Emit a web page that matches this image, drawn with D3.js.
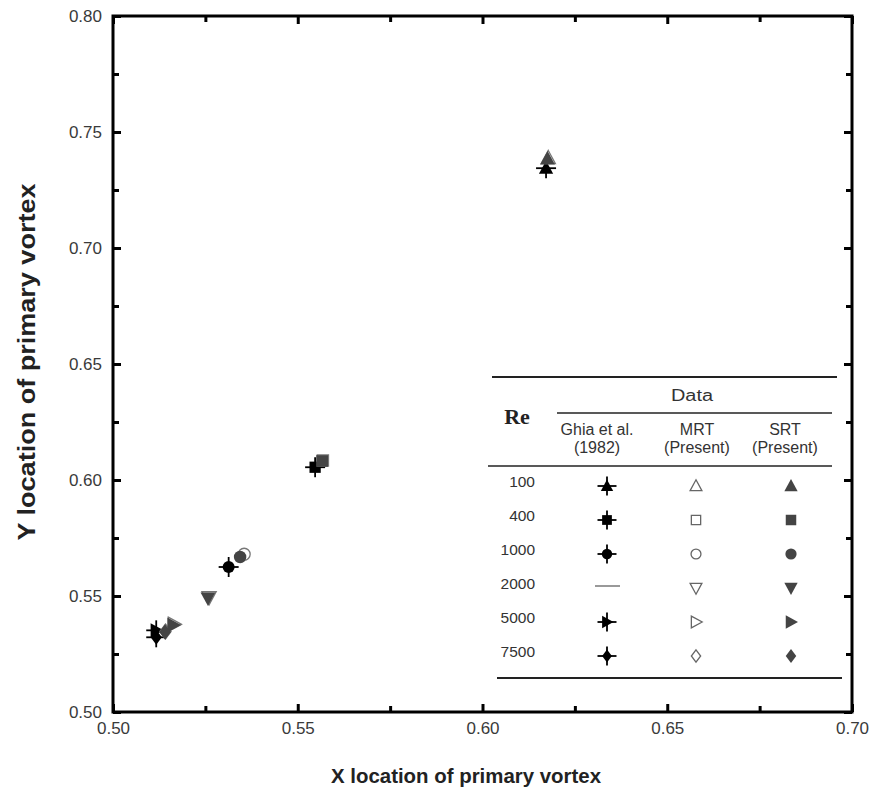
<!DOCTYPE html>
<html>
<head>
<meta charset="utf-8">
<script src="https://cdn.jsdelivr.net/npm/d3@7"></script>
<style>
  body { margin: 0; background: #fff; }
  svg text { font-family: "Liberation Sans", Arial, sans-serif; }
</style>
</head>
<body>
<svg id="chart"></svg>
<script>
// Primary vortex locations per Reynolds number
const reynolds = ["100", "400", "1000", "2000", "5000", "7500"];
const shapes = ["triangle", "square", "circle", "triangleDown", "triangleRight", "diamond"];

// Ghia et al. (1982) - no value for Re 2000
const ghiaX = [0.6172, 0.5547, 0.5313, null, 0.5117, 0.5117];
const ghiaY = [0.7344, 0.6055, 0.5625, null, 0.5352, 0.5322];

// MRT (present)
const mrtX = [0.6178, 0.5568, 0.5355, 0.5260, 0.5165, 0.5142];
const mrtY = [0.7388, 0.6084, 0.5680, 0.5494, 0.5378, 0.5347];

// SRT (present)
const srtX = [0.6176, 0.5566, 0.5344, 0.5257, 0.5163, 0.5141];
const srtY = [0.7385, 0.6082, 0.5668, 0.5490, 0.5375, 0.5345];

const xDomain = [0.50, 0.70];
const yDomain = [0.50, 0.80];
const xTickValues = [0.50, 0.55, 0.60, 0.65, 0.70];
const yTickValues = [0.50, 0.55, 0.60, 0.65, 0.70, 0.75, 0.80];

const config = {
    width: 869,
    height: 801,
    left: 113, right: 852, top: 16, bottom: 712
};

const svg = d3.select("#chart")
    .attr("width", config.width)
    .attr("height", config.height);

const x = d3.scaleLinear().domain(xDomain).range([config.left, config.right]);
const y = d3.scaleLinear().domain(yDomain).range([config.bottom, config.top]);

// marker path, s = half size
function shapePath(shape, s) {
    switch (shape) {
        case "triangle":
            return `M0,${-s}L${s * 0.95},${s * 0.75}L${-s * 0.95},${s * 0.75}Z`;
        case "triangleDown":
            return `M0,${s}L${s * 0.95},${-s * 0.75}L${-s * 0.95},${-s * 0.75}Z`;
        case "triangleRight":
            return `M${s},0L${-s * 0.75},${s * 0.95}L${-s * 0.75},${-s * 0.95}Z`;
        case "square":
            return `M${-s * 0.75},${-s * 0.75}H${s * 0.75}V${s * 0.75}H${-s * 0.75}Z`;
        case "diamond":
            return `M0,${-s}L${s * 0.75},0L0,${s}L${-s * 0.75},0Z`;
        case "circle":
        default:
            return d3.symbol(d3.symbolCircle, Math.PI * (s * 0.8) * (s * 0.8))();
    }
}

// Ghia marker: filled shape with a thin cross through it
function drawGhia(g, shape, s, cross) {
    g.append("line").attr("x1", 0).attr("x2", 0).attr("y1", -cross).attr("y2", cross)
        .attr("stroke", "#000").attr("stroke-width", 1.8);
    g.append("line").attr("x1", -cross).attr("x2", cross).attr("y1", 0).attr("y2", 0)
        .attr("stroke", "#000").attr("stroke-width", 1.8);
    g.append("path").attr("d", shapePath(shape, s)).attr("fill", "#000");
}

// Frame
svg.append("rect")
    .attr("x", config.left).attr("y", config.top)
    .attr("width", config.right - config.left)
    .attr("height", config.bottom - config.top)
    .attr("fill", "none").attr("stroke", "#000").attr("stroke-width", 3);

// Axes (ticks inward)
const fmt = d3.format(".2f");
const xMinor = d3.range(0.525, 0.70, 0.05);
const yMinor = d3.range(0.525, 0.80, 0.05);

function styleAxis(g) {
    g.select(".domain").remove();
    g.selectAll(".tick line").attr("stroke", "#000").attr("stroke-width", 3);
    g.selectAll(".tick text").attr("fill", "#3a3a3a").style("font-size", "17px");
}

svg.append("g").attr("transform", `translate(0,${config.bottom})`)
    .call(d3.axisBottom(x).tickValues(xTickValues).tickFormat(fmt).tickSizeInner(-8).tickSizeOuter(0).tickPadding(10))
    .call(styleAxis);
svg.append("g").attr("transform", `translate(0,${config.bottom})`)
    .call(d3.axisBottom(x).tickValues(xMinor).tickFormat("").tickSizeInner(-6).tickSizeOuter(0))
    .call(styleAxis);
svg.append("g").attr("transform", `translate(0,${config.top})`)
    .call(d3.axisTop(x).tickValues(xTickValues).tickFormat("").tickSizeInner(-8).tickSizeOuter(0))
    .call(styleAxis);
svg.append("g").attr("transform", `translate(0,${config.top})`)
    .call(d3.axisTop(x).tickValues(xMinor).tickFormat("").tickSizeInner(-6).tickSizeOuter(0))
    .call(styleAxis);

svg.append("g").attr("transform", `translate(${config.left},0)`)
    .call(d3.axisLeft(y).tickValues(yTickValues).tickFormat(fmt).tickSizeInner(-8).tickSizeOuter(0).tickPadding(11))
    .call(styleAxis);
svg.append("g").attr("transform", `translate(${config.left},0)`)
    .call(d3.axisLeft(y).tickValues(yMinor).tickFormat("").tickSizeInner(-6).tickSizeOuter(0))
    .call(styleAxis);
svg.append("g").attr("transform", `translate(${config.right},0)`)
    .call(d3.axisRight(y).tickValues(yTickValues).tickFormat("").tickSizeInner(-8).tickSizeOuter(0))
    .call(styleAxis);
svg.append("g").attr("transform", `translate(${config.right},0)`)
    .call(d3.axisRight(y).tickValues(yMinor).tickFormat("").tickSizeInner(-6).tickSizeOuter(0))
    .call(styleAxis);

// Axis titles
svg.append("text")
    .attr("x", 466).attr("y", 783)
    .attr("text-anchor", "middle")
    .style("font-size", "21px").style("font-weight", "bold").attr("fill", "#222")
    .attr("textLength", 270).attr("lengthAdjust", "spacingAndGlyphs")
    .text("X location of primary vortex");

svg.append("text")
    .attr("transform", "translate(35,362) rotate(-90)")
    .attr("text-anchor", "middle")
    .style("font-size", "23px").style("font-weight", "bold").attr("fill", "#222")
    .attr("textLength", 357).attr("lengthAdjust", "spacingAndGlyphs")
    .text("Y location of primary vortex");

// Data points
const plot = svg.append("g");
reynolds.forEach((re, i) => {
    if (ghiaX[i] !== null) {
        const g = plot.append("g").attr("transform", `translate(${x(ghiaX[i])},${y(ghiaY[i])})`);
        drawGhia(g, shapes[i], 7.5, 10);
    }
});
reynolds.forEach((re, i) => {
    plot.append("path")
        .attr("transform", `translate(${x(mrtX[i])},${y(mrtY[i])})`)
        .attr("d", shapePath(shapes[i], 7.5))
        .attr("fill", "#fff").attr("stroke", "#777").attr("stroke-width", 1.3);
});
reynolds.forEach((re, i) => {
    plot.append("path")
        .attr("transform", `translate(${x(srtX[i])},${y(srtY[i])})`)
        .attr("d", shapePath(shapes[i], 7.8))
        .attr("fill", "#444");
});

// Legend table
const legend = svg.append("g");
const hline = (x1, x2, yy, w) => legend.append("line")
    .attr("x1", x1).attr("x2", x2).attr("y1", yy).attr("y2", yy)
    .attr("stroke", "#222").attr("stroke-width", w);

hline(492, 837, 377, 2.2);
hline(557, 832, 413, 1.3);
hline(488, 832, 466, 1.3);
hline(497, 842, 678, 2.2);

legend.append("text").attr("x", 692).attr("y", 401).attr("text-anchor", "middle")
    .style("font-size", "16px").attr("fill", "#333")
    .attr("textLength", 42).attr("lengthAdjust", "spacingAndGlyphs").text("Data");
legend.append("text").attr("x", 517).attr("y", 424).attr("text-anchor", "middle")
    .style("font-family", "'Liberation Serif', 'Times New Roman', serif")
    .style("font-size", "22px").style("font-weight", "bold").attr("fill", "#222").text("Re");

const columns = [
    { cx: 597, lines: ["Ghia et al.", "(1982)"] },
    { cx: 697, lines: ["MRT", "(Present)"] },
    { cx: 785, lines: ["SRT", "(Present)"] }
];
columns.forEach(c => {
    c.lines.forEach((t, k) => {
        legend.append("text").attr("x", c.cx).attr("y", 435 + k * 18).attr("text-anchor", "middle")
            .style("font-size", "16px").attr("fill", "#333").text(t);
    });
});

const rowY = d3.scalePoint().domain(reynolds).range([482, 652]);
reynolds.forEach((re, i) => {
    const yy = rowY(re);
    legend.append("text").attr("x", 535).attr("y", yy + 5).attr("text-anchor", "end")
        .style("font-size", "15.5px").attr("fill", "#333").text(re);
    const sy = yy + 4;
    if (ghiaX[i] !== null) {
        const g = legend.append("g").attr("transform", `translate(607,${sy})`);
        drawGhia(g, shapes[i], 6.5, 9.5);
    } else {
        legend.append("line").attr("x1", 595).attr("x2", 620).attr("y1", sy - 2).attr("y2", sy - 2)
            .attr("stroke", "#999").attr("stroke-width", 2);
    }
    legend.append("path").attr("transform", `translate(696,${sy})`)
        .attr("d", shapePath(shapes[i], 6.2))
        .attr("fill", "#fff").attr("stroke", "#666").attr("stroke-width", 1.3);
    legend.append("path").attr("transform", `translate(791,${sy})`)
        .attr("d", shapePath(shapes[i], 7))
        .attr("fill", "#444");
});
</script>
</body>
</html>
